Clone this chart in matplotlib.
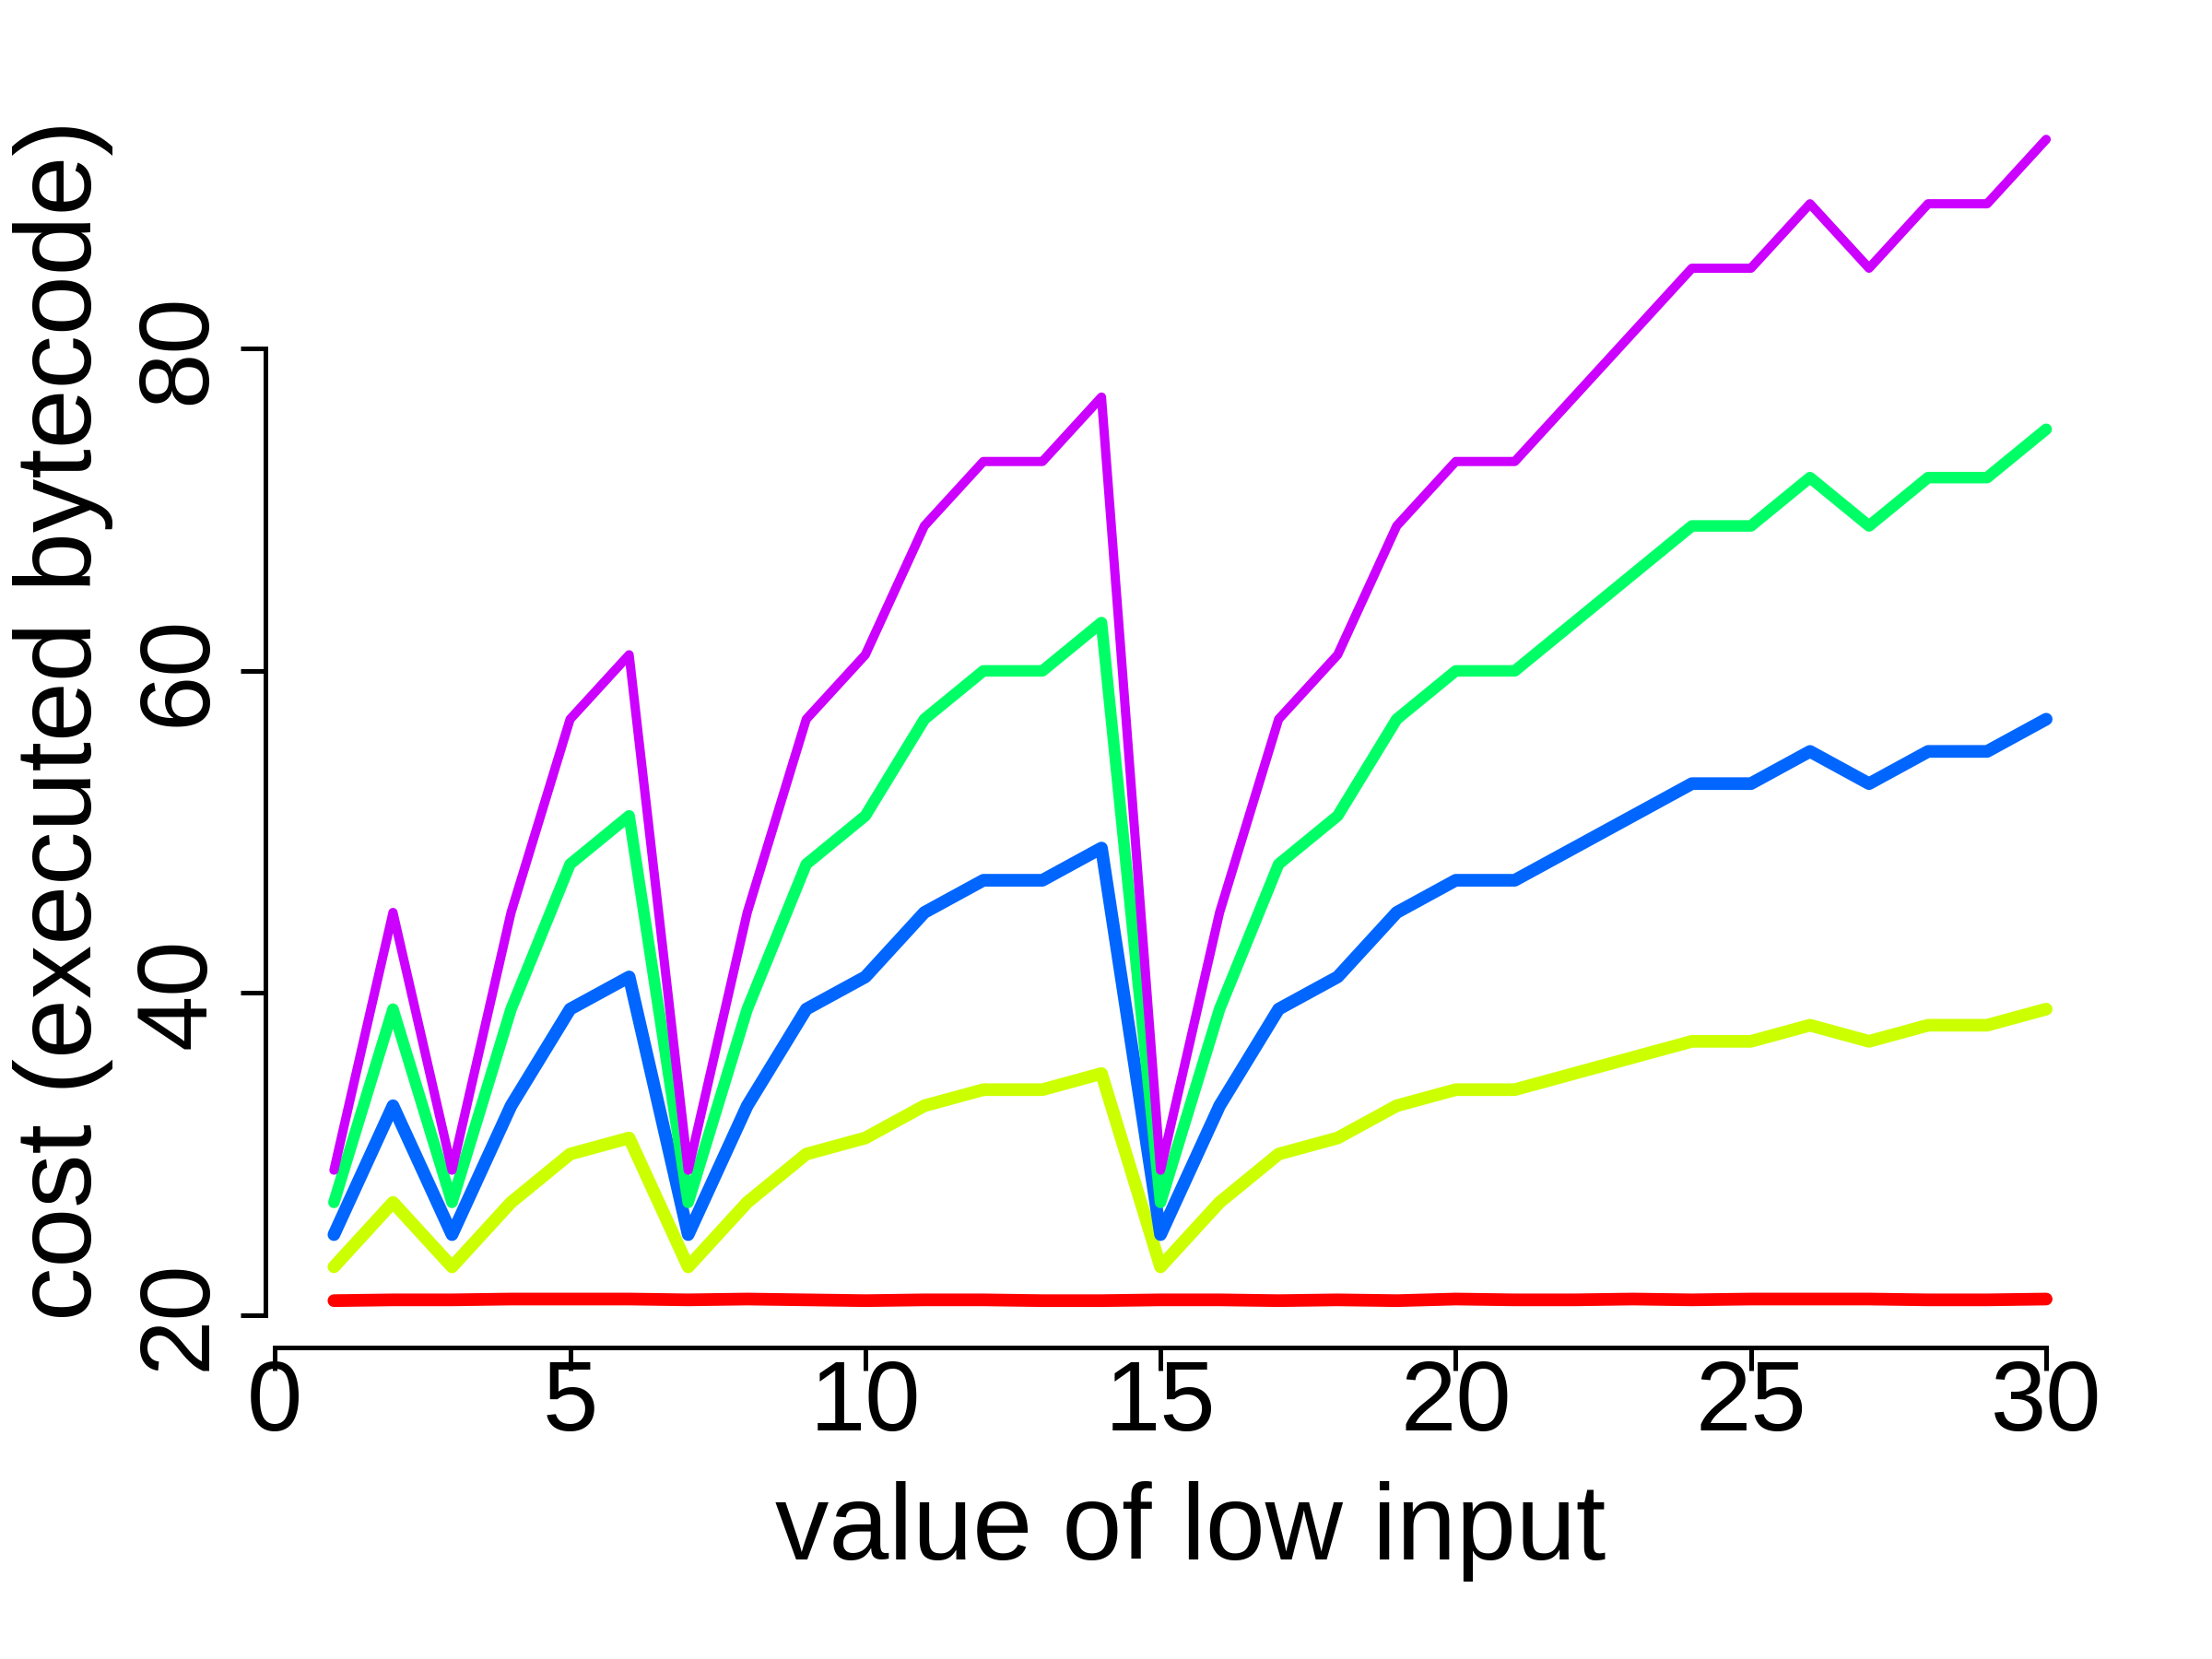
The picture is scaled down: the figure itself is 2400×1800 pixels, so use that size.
import matplotlib
matplotlib.use("Agg")
import matplotlib.pyplot as plt
from matplotlib import font_manager

# ── Data ──────────────────────────────────────────────────────────────────────
X = list(range(1, 31))

COST_RED = [20.9, 20.95, 20.95, 21.0, 21.0, 21.0, 20.95, 21.0, 20.95, 20.9,
            20.95, 20.95, 20.9, 20.9, 20.95, 20.95, 20.9, 20.95, 20.9, 21.0,
            20.95, 20.95, 21.0, 20.95, 21.0, 21.0, 21.0, 20.95, 20.95, 21.0]
COST_YELLOW = [23, 27, 23, 27, 30, 31, 23, 27, 30, 31, 33, 34, 34, 35, 23,
               27, 30, 31, 33, 34, 34, 35, 36, 37, 37, 38, 37, 38, 38, 39]
COST_BLUE = [25, 33, 25, 33, 39, 41, 25, 33, 39, 41, 45, 47, 47, 49, 25,
             33, 39, 41, 45, 47, 47, 49, 51, 53, 53, 55, 53, 55, 55, 57]
COST_GREEN = [27, 39, 27, 39, 48, 51, 27, 39, 48, 51, 57, 60, 60, 63, 27,
              39, 48, 51, 57, 60, 60, 63, 66, 69, 69, 72, 69, 72, 72, 75]
COST_MAGENTA = [29, 45, 29, 45, 57, 61, 29, 45, 57, 61, 69, 73, 73, 77, 29,
                45, 57, 61, 69, 73, 73, 77, 81, 85, 85, 89, 85, 89, 89, 93]

SERIES = [COST_RED, COST_YELLOW, COST_BLUE, COST_GREEN, COST_MAGENTA]
COLORS = ["#FF0000", "#CCFF00", "#0066FF", "#00FF66", "#CC00FF"]
WIDTHS = [3.3, 3.3, 3.3, 3.0, 2.4]

X_TICKS = [0, 5, 10, 15, 20, 25, 30]
Y_TICKS = [20, 40, 60, 80]

# ── Font ──────────────────────────────────────────────────────────────────────
names = {f.name for f in font_manager.fontManager.ttflist}
FAMILY = ["Liberation Sans Narrow", "Liberation Sans", "DejaVu Sans"]
FAMILY = [f for f in FAMILY if f in names] or ["DejaVu Sans"]
plt.rcParams["font.family"] = FAMILY
FS = 26

# ── Figure ────────────────────────────────────────────────────────────────────
fig = plt.figure(figsize=(8, 6), dpi=300)
fig.patch.set_facecolor("white")
ax = fig.add_axes([0.12, 0.188, 0.836, 0.756])

for ys, col, lw in zip(SERIES, COLORS, WIDTHS):
    ax.plot(X, ys, color=col, linewidth=lw, solid_capstyle="round",
            solid_joinstyle="round")

# R-style 4 % padding around the data range
xmin, xmax = min(X), max(X)
xr = xmax - xmin
allv = [v for s in SERIES for v in s]
ymin, ymax = min(allv), max(allv)
yr = ymax - ymin
ax.set_xlim(xmin - 0.04 * xr, xmax + 0.04 * xr)
ax.set_ylim(ymin - 0.04 * yr, ymax + 0.04 * yr)

ax.spines[["top", "right"]].set_visible(False)
ax.spines["left"].set_bounds(Y_TICKS[0], Y_TICKS[-1])
ax.spines["bottom"].set_bounds(X_TICKS[0], X_TICKS[-1])
for s in ("left", "bottom"):
    ax.spines[s].set_linewidth(1.2)

ax.set_xticks(X_TICKS)
ax.set_yticks(Y_TICKS)
ax.tick_params(axis="x", length=6, width=1.2, labelsize=FS, pad=-3)
ax.tick_params(axis="y", length=6.5, width=1.2, labelsize=FS, pad=4,
               labelrotation=90)
for lab in ax.get_yticklabels():
    lab.set_va("center")

ax.set_xlabel("value of low input", fontsize=FS + 2, labelpad=8)
ax.set_ylabel("cost (executed bytecode)", fontsize=FS + 2, labelpad=5)

fig.savefig("out.png", dpi=300, facecolor="white")
